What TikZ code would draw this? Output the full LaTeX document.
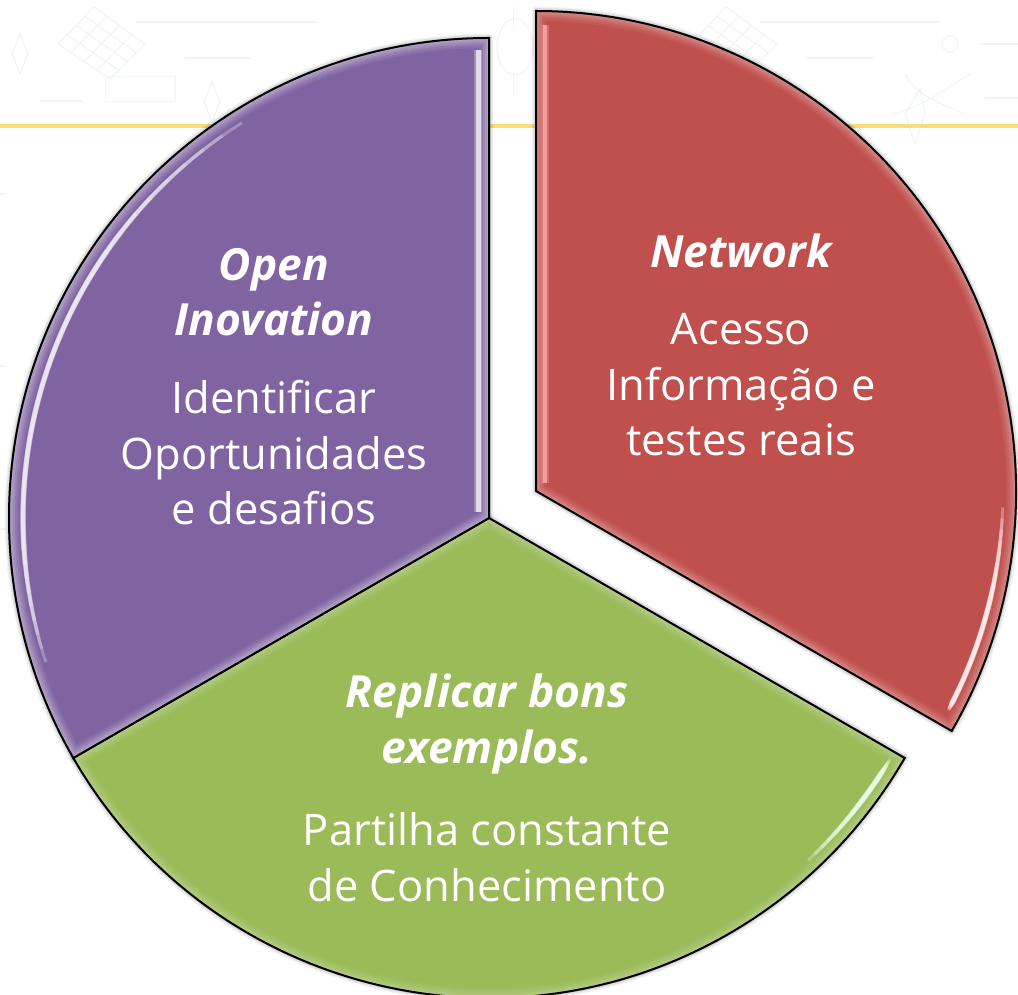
\documentclass[tikz,border=0pt]{standalone}
\usepackage{fontspec}
\usetikzlibrary{calc}
\setmainfont{Open Sans}
\definecolor{cpurple}{HTML}{8064A2}
\definecolor{cred}{HTML}{C0504D}
\definecolor{cgreen}{HTML}{9BBB59}
\definecolor{faint}{HTML}{EFF5F3}
\definecolor{rule}{HTML}{F7DD7C}
\tikzset{
  x=1pt,y=1pt,
  bgline/.style={draw=faint,line width=2pt},
  bgthin/.style={draw=faint,line width=1pt},
  sectorline/.style={draw=black,line width=2pt,line join=miter},
  label/.style={text=white,align=center,inner sep=0pt,font=\fontsize{43.5}{55.5}\selectfont},
  heading/.style={label,font=\fontsize{44.3}{55.5}\selectfont\bfseries\itshape},
}
\newcommand{\sectorpath}[3]{(#1) -- ++(#2:480) arc[start angle=#2,end angle=#3,radius=480] -- cycle}
\newcommand{\softshadow}[3]{%
  \foreach \w/\o in {9/.05,6/.07,3/.10}{
    \draw[black,opacity=\o,line width=\w pt,line join=round,yshift=-1.5pt] \sectorpath{#1}{#2}{#3};
  }}
% centre, start, end, fill, opacity scale
\newcommand{\bevelled}[5]{%
  \begin{scope}
    \clip \sectorpath{#1}{#2}{#3};
    \fill[#4] \sectorpath{#1}{#2}{#3};
    \foreach \w/\o in {20/.05,16/.06,12/.08,8/.09,4/.10}{
      \draw[white,opacity=\o*#5,line width=\w pt] \sectorpath{#1}{#2}{#3};
    }
  \end{scope}}
% centre, outer from, inner from, inner to, outer to, colour, radius
\newcommand{\archl}[7]{%
  \foreach \t in {0,.125,...,1.01}{
    \pgfmathsetmacro{\aa}{#2+\t*(#3-#2)}
    \pgfmathsetmacro{\ab}{#5+\t*(#4-#5)}
    \pgfmathsetmacro{\wd}{3+2.5*\t}
    \draw[#6,opacity=.3,line width=\wd pt]
      (#1) ++(\aa:#7) arc[start angle=\aa,end angle=\ab,radius=#7];
  }}
\begin{document}
\begin{tikzpicture}
\useasboundingbox (0,0) rectangle (1018,994);
\fill[white] (0,0) rectangle (1018,994);
\begin{scope}
\clip (0,0) rectangle (1018,994);
% faint background artwork
\foreach \dx in {0,632}{
  \begin{scope}[xshift=\dx pt]
    \draw[bgthin] (94,987) -- (145,950) -- (110,915) -- (58,950) -- cycle;
    \foreach \t in {.25,.5,.75}{
      \draw[bgthin] ($(94,987)!\t!(145,950)$) -- ($(58,950)!\t!(110,915)$);
      \draw[bgthin] ($(94,987)!\t!(58,950)$) -- ($(145,950)!\t!(110,915)$);
    }
  \end{scope}
}
\draw[bgthin] (105,917) rectangle (175,892);
\draw[bgline] (136,972) -- (318,972);
\draw[bgline] (185,936) -- (250,936);
\draw[bgline] (40,893) -- (82,893);
\draw[bgline] (760,972) -- (940,972);
\draw[bgline] (807,936) -- (873,936);
\draw[bgline] (980,950) -- (1018,950);
\draw[bgline] (985,896) -- (1018,896);
\draw[bgthin] (20,960) -- (28,940) -- (20,920) -- (12,940) -- cycle;
\draw[bgthin] (212,912) -- (220,892) -- (212,872) -- (204,892) -- cycle;
\draw[bgthin] (515,947) ellipse (18 and 28);
\draw[bgthin] (513,988) -- (513,965);
\draw[bgthin] (513,920) -- (513,898);
\draw[bgthin] (905,920) .. controls (915,900) and (930,895) .. (965,880);
\draw[bgthin] (890,880) .. controls (920,885) and (945,905) .. (970,920);
\draw[bgthin] (915,850) -- (905,880) -- (920,905) -- (925,880) -- cycle;
\draw[bgthin] (950,950) circle (8);
\draw[bgline] (0,800) -- (6,800);
\draw[bgline] (0,628) -- (6,628);
\draw[bgline] (0,465) -- (6,465);
% yellow rule
\draw[rule,line width=3.5pt] (0,868) -- (1018,868);
% sector centres
\coordinate (cp) at (489,476);
\coordinate (cg) at (489,476);
\coordinate (cr) at (536,503);
% shadows
\softshadow{cp}{90}{210}
\softshadow{cg}{210}{330}
\softshadow{cr}{-30}{90}
% green
\bevelled{cg}{210}{330}{cgreen}{.8}
\begin{scope}
  \clip \sectorpath{cg}{210}{330};
  \archl{cg}{313}{322}{327}{329}{green!8!white}{468}
\end{scope}
\draw[sectorline] \sectorpath{cg}{210}{330};
% purple
\bevelled{cp}{90}{210}{cpurple}{1.3}
\begin{scope}
  \clip \sectorpath{cp}{90}{210};
  \archl{cp}{122}{145}{184}{198}{cpurple!12!white}{466}
  \foreach \w/\o in {8/.3,5/.85}{
    \draw[cpurple!15!white,opacity=\o,line width=\w pt] (478,944) -- (478,482);
  }
\end{scope}
\draw[sectorline] \sectorpath{cp}{90}{210};
% red
\bevelled{cr}{-30}{90}{cred}{1}
\begin{scope}
  \clip \sectorpath{cr}{-30}{90};
  \archl{cr}{-28}{-27}{-13}{-2}{red!6!white}{467}
  \foreach \w/\o in {8/.3,4.5/.7}{
    \draw[red!30!white,opacity=\o,line width=\w pt] (545,969) -- (545,511);
  }
\end{scope}
\draw[sectorline] \sectorpath{cr}{-30}{90};
% text
\node[heading] (ph) at (274,702) {Open\\Inovation};
\node[label]   (pb) at (274,541) {Identificar\\Oportunidades\\e desafios};
\node[heading] (rh) at (741,743) {Network};
\node[label]   (rb) at (741,609) {Acesso\\Informação e\\testes reais};
\node[heading] (gh) at (487,270) {Replicar bons\\exemplos.};
\node[label]   (gb) at (487,137) {Partilha constante\\de Conhecimento};
\end{scope}
\end{tikzpicture}
\end{document}
